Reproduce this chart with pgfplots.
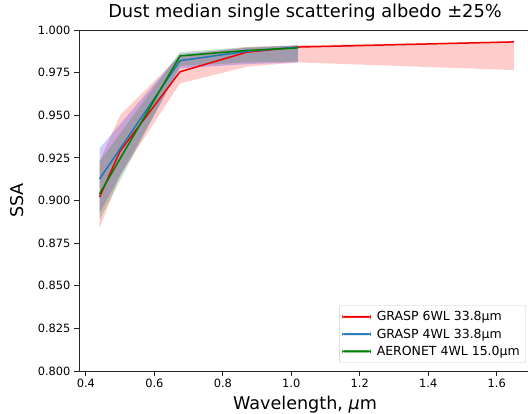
\documentclass[border=0pt]{standalone}
\usepackage{fontspec}
\setmainfont{DejaVu Sans}
\usepackage{pgfplots}
\pgfplotsset{compat=1.18}
\usepackage{pgfplotstable}

\definecolor{mplred}{RGB}{240,0,0}
\definecolor{mplblue}{HTML}{1F77B4}
\definecolor{fillred}{RGB}{255,0,0}
\definecolor{fillblue}{RGB}{0,0,255}
\definecolor{mplgreen}{HTML}{008000}

\pgfplotstableread{
x y
0.44 0.902
0.50 0.929
0.675 0.9755
0.87 0.987
1.02 0.990
1.65 0.993
}\gsix

\pgfplotstableread{
x y
0.44 0.9126
0.675 0.982
0.87 0.9875
1.02 0.990
}\gfour

\pgfplotstableread{
x y
0.44 0.9038
0.675 0.9848
0.87 0.988
1.02 0.9895
}\aero

\begin{document}
\begin{tikzpicture}
\begin{axis}[
  at={(0,0)}, anchor=south west,
  scale only axis, width=452pt, height=341pt,
  xmin=0.38, xmax=1.70, ymin=0.8, ymax=1.0,
  xtick={0.4,0.6,0.8,1.0,1.2,1.4,1.6},
  ytick={0.800,0.825,0.850,0.875,0.900,0.925,0.950,0.975,1.000},
  xtick pos=bottom, ytick pos=left,
  tick align=outside, major tick length=5pt,
  axis line style={line width=0.8pt, black!85},
  tick style={line width=0.8pt, black!85},
  x tick label style={font=\fontsize{11.4}{13}\selectfont, /pgf/number format/.cd, fixed, fixed zerofill, precision=1, assume math mode=true},
  y tick label style={font=\fontsize{11.4}{13}\selectfont, /pgf/number format/.cd, fixed, fixed zerofill, precision=3, assume math mode=true},
  scaled y ticks=false, scaled x ticks=false,
  title={Dust median single scattering albedo ±25\%},
  title style={font=\fontsize{17.8}{20}\selectfont, at={(axis description cs:0.5,1.0176)}, anchor=base},
  xlabel={Wavelength, \textit{μ}m},
  xlabel style={font=\fontsize{17.6}{20}\selectfont, at={(axis description cs:0.5,-0.1143)}, anchor=base},
  ylabel={SSA},
  ylabel style={font=\fontsize{17.6}{20}\selectfont, at={(axis description cs:-0.1217,0.5)}, anchor=base},
  legend style={at={(1,0)}, anchor=south east, xshift=-5pt, yshift=8pt,
    font=\fontsize{12.5}{14}\selectfont, draw=black!20, rounded corners=2pt,
    inner xsep=3pt, inner ysep=4pt, row sep=2.5pt,
    nodes={inner xsep=3pt},
    /tikz/every odd column/.append style={column sep=3pt}},
  legend cell align=left,
  legend image code/.code={\fill[#1] (0pt,-0.8pt) rectangle (28pt,0.8pt);},
]
% bands: upper edge left to right, then lower edge right to left
\addplot[fill=fillred, fill opacity=0.2, draw=none, forget plot] coordinates {
 (0.44,0.923) (0.50,0.950) (0.675,0.985) (0.87,0.990) (1.02,0.991) (1.65,0.9935)
 (1.65,0.9765) (1.02,0.981) (0.87,0.9785) (0.675,0.9687) (0.50,0.915) (0.44,0.8837)} -- cycle;
\addplot[fill=fillblue, fill opacity=0.2, draw=none, forget plot] coordinates {
 (0.44,0.9306) (0.675,0.986) (0.87,0.9895) (1.02,0.991)
 (1.02,0.981) (0.87,0.980) (0.675,0.9775) (0.44,0.8925)} -- cycle;
\addplot[fill=mplgreen, fill opacity=0.2, draw=none, forget plot] coordinates {
 (0.44,0.923) (0.675,0.987) (0.87,0.990) (1.02,0.991)
 (1.02,0.9815) (0.87,0.981) (0.675,0.979) (0.44,0.8886)} -- cycle;

\addplot[color=mplred, line width=1.5pt, mark=none, forget plot] table[x=x, y=y] {\gsix};
\addplot[color=mplblue, line width=1.5pt, mark=none, forget plot] table[x=x, y=y] {\gfour};
\addplot[color=mplgreen, line width=1.5pt, mark=none, forget plot] table[x=x, y=y] {\aero};

\addlegendimage{color=mplred}
\addlegendentry{GRASP 6WL 33.8μm}
\addlegendimage{color=mplblue}
\addlegendentry{GRASP 4WL 33.8μm}
\addlegendimage{color=mplgreen}
\addlegendentry{AERONET 4WL 15.0μm}
\end{axis}
\pgfresetboundingbox
\path[use as bounding box] (-79pt,-43pt) rectangle (449pt,371pt);
\end{tikzpicture}
\end{document}
